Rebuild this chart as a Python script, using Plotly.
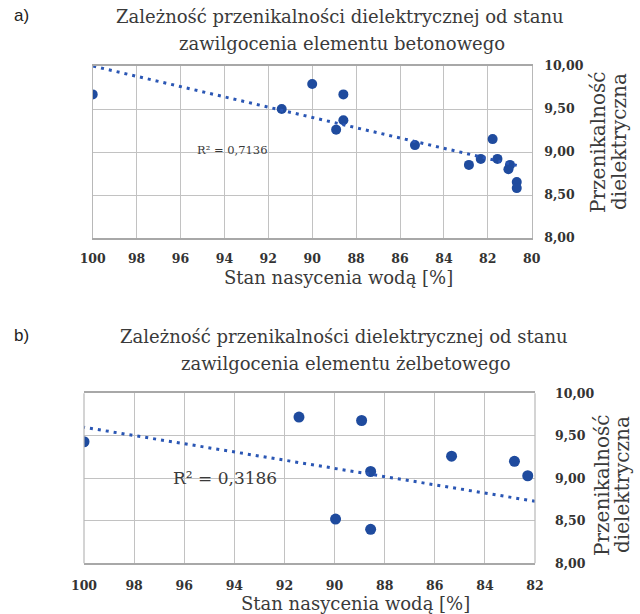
import numpy as np
import plotly.graph_objects as go

# ---------------- data ----------------
# Panel a) – concrete element
X_A = [100, 90.0, 88.58, 91.39, 88.58, 88.91, 85.32, 82.86, 82.32, 81.78, 81.56, 81.06, 80.99, 80.68, 80.68]
Y_A = [9.67, 9.79, 9.67, 9.50, 9.37, 9.26, 9.08, 8.85, 8.92, 9.15, 8.92, 8.80, 8.85, 8.65, 8.58]
TREND_A = [0.0598, 4.02]          # slope, intercept (linear trend shown in chart)
TREND_A_X = [80.68, 100]
R2_A = "R² = 0,7136"

# Panel b) – reinforced concrete element
X_B = [100, 91.42, 88.92, 88.56, 89.96, 88.56, 85.33, 82.82, 82.29]
Y_B = [9.43, 9.72, 9.68, 9.08, 8.52, 8.40, 9.26, 9.20, 9.03]
TREND_B = [0.04833, 4.767]
TREND_B_X = [82, 100]
R2_B = "R² = 0,3186"

X_TICKS_A = [100, 98, 96, 94, 92, 90, 88, 86, 84, 82, 80]
X_TICKS_B = [100, 98, 96, 94, 92, 90, 88, 86, 84, 82]
Y_TICKS = [8.0, 8.5, 9.0, 9.5, 10.0]
Y_TICK_TEXT = ["8,00", "8,50", "9,00", "9,50", "10,00"]

TITLE_A = ["Zależność przenikalności dielektrycznej od stanu", "zawilgocenia elementu betonowego"]
TITLE_B = ["Zależność przenikalności dielektrycznej od stanu", "zawilgocenia elementu żelbetowego"]
X_TITLE = "Stan nasycenia wodą [%]"
Y_TITLE = ["Przenikalność", "dielektryczna"]

# ---------------- style ----------------
BLUE = "#1f4b9e"
TREND_COL = "#2a56b4"
GRID = "#c2c2c2"
TXT = "#3a3a3a"
SERIF = "DejaVu Serif"
W, H = 640, 614

fig = go.Figure()

fig.add_trace(go.Scatter(x=X_A, y=Y_A, mode="markers", xaxis="x", yaxis="y",
                         marker=dict(color=BLUE, size=10), showlegend=False))
tx = np.array(TREND_A_X, dtype=float)
fig.add_trace(go.Scatter(x=tx, y=TREND_A[0] * tx + TREND_A[1], mode="lines",
                         xaxis="x", yaxis="y",
                         line=dict(color=TREND_COL, width=3, dash="3px,5px"),
                         showlegend=False))

fig.add_trace(go.Scatter(x=X_B, y=Y_B, mode="markers", xaxis="x2", yaxis="y2",
                         marker=dict(color=BLUE, size=11), showlegend=False))
tx = np.array(TREND_B_X, dtype=float)
fig.add_trace(go.Scatter(x=tx, y=TREND_B[0] * tx + TREND_B[1], mode="lines",
                         xaxis="x2", yaxis="y2",
                         line=dict(color=TREND_COL, width=3, dash="3px,5px"),
                         showlegend=False))

tickfont = dict(family=SERIF, size=12.5, color="#333333", weight="bold")

def xaxis(dom, ticks, rng, ticklen):
    return dict(domain=dom, range=rng, tickvals=ticks, ticktext=[str(t) for t in ticks],
                showgrid=True, gridcolor=GRID, gridwidth=1, zeroline=False,
                showline=True, linecolor="#a8a8a8", linewidth=1.5, mirror=True,
                ticks="outside", ticklen=ticklen, tickcolor="rgba(0,0,0,0)",
                tickfont=tickfont, automargin=False, fixedrange=True)

def yaxis(dom, **kw):
    d = dict(domain=dom, range=[8, 10], side="right",
             tickvals=Y_TICKS, ticktext=Y_TICK_TEXT,
             showgrid=True, gridcolor=GRID, gridwidth=1, zeroline=False,
             tickfont=tickfont, automargin=False, fixedrange=True)
    d.update(kw)
    return d

XA_DOM = [92.7 / W, 531.7 / W]
XB_DOM = [84 / W, 535 / W]

fig.update_layout(
    width=W, height=H,
    margin=dict(l=0, r=0, t=0, b=0),
    paper_bgcolor="white", plot_bgcolor="white",
    xaxis=xaxis(XA_DOM, X_TICKS_A, [100, 80], 8) | dict(anchor="y"),
    yaxis=yaxis([1 - 238 / H, 1 - 66 / H], anchor="x",
                showline=True, linecolor="#b8b8b8", linewidth=1, mirror=True,
                ticks="outside", ticklen=9, tickcolor="rgba(0,0,0,0)"),
    xaxis2=xaxis(XB_DOM, X_TICKS_B, [100, 82], 10) | dict(anchor="y2"),
    yaxis2=yaxis([1 - 563.3 / H, 1 - 393.3 / H], anchor="free", position=554 / W,
                 showline=False, ticks=""),
)

# left/right frame lines of plot b (its value axis is placed freely to the right)
for xv in (0, 1):
    fig.add_shape(type="line", xref="x2 domain", yref="y2 domain", x0=xv, x1=xv, y0=0, y1=1,
                  line=dict(color="#b8b8b8", width=1.2), layer="above")

def ann(text, x, y, size, xanchor="center", angle=0, family=SERIF, color=TXT, xref="paper", yref="paper"):
    return dict(text=text, x=x, y=y, xref=xref, yref=yref, showarrow=False,
                xanchor=xanchor, yanchor="middle", textangle=angle,
                font=dict(family=family, size=size, color=color))

annots = [
    ann("a)", 12 / W, 1 - 15 / H, 17, "left", family="Liberation Sans", color="#222"),
    ann("b)", 12 / W, 1 - 335 / H, 17, "left", family="Liberation Sans", color="#222"),
    ann(TITLE_A[0], 340 / W, 1 - 16 / H, 18),
    ann(TITLE_A[1], 342 / W, 1 - 43 / H, 18),
    ann(TITLE_B[0], 344 / W, 1 - 336 / H, 18),
    ann(TITLE_B[1], 346 / W, 1 - 363 / H, 18),
    ann(X_TITLE, 338 / W, 1 - 277 / H, 18),
    ann(X_TITLE, 355 / W, 1 - 603 / H, 18),
    ann(Y_TITLE[0], 598 / W, 1 - 142 / H, 20, angle=-90),
    ann(Y_TITLE[1], 619 / W, 1 - 142 / H, 20, angle=-90),
    ann(Y_TITLE[0], 602 / W, 1 - 485 / H, 20, angle=-90),
    ann(Y_TITLE[1], 622 / W, 1 - 485 / H, 20, angle=-90),
    ann(R2_A, 93.65, 9.02, 11.5, xref="x", yref="y"),
    ann(R2_B, 94.39, 9.00, 17, xref="x2", yref="y2"),
]
fig.update_layout(annotations=annots)

fig.write_html("out.html", config={"displayModeBar": False},
               post_script="document.body.style.margin='0px';")
